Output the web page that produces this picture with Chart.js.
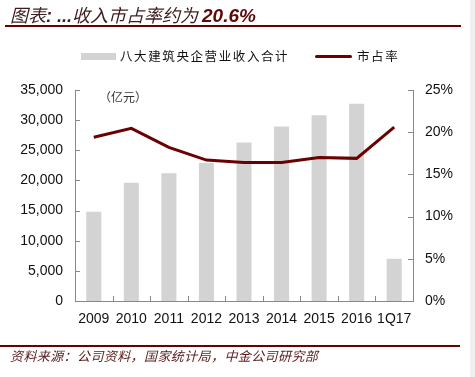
<!DOCTYPE html>
<html><head><meta charset="utf-8">
<script src="https://cdn.jsdelivr.net/npm/chart.js@4/dist/chart.umd.min.js"></script>
<style>
html,body{margin:0;padding:0;background:#fff;}
#wrap{position:relative;width:475px;height:377px;overflow:hidden;background:#fff;}
#strip{position:absolute;left:470px;top:0;width:5px;height:377px;background:#f0f0f0;}
#title{position:absolute;left:10px;top:2px;font-family:"Noto Sans CJK SC";font-style:italic;font-size:18px;color:#3d1c1c;white-space:nowrap;line-height:24px;}
#title b{color:#5e0a0a;font-family:"Liberation Sans";font-weight:bold;font-style:italic;font-size:19px;}
#title .d{font-family:"Liberation Sans";font-weight:bold;}
#tline{position:absolute;left:5px;top:25px;width:456px;height:2px;background:#6b0000;}
#fline{position:absolute;left:0px;top:345px;width:460px;height:2px;background:#6b0000;}
#foot{position:absolute;left:10px;top:346px;font-family:"Noto Sans CJK SC";font-style:italic;font-size:13px;letter-spacing:0.4px;color:#5a1a1a;white-space:nowrap;}
#unit{position:absolute;left:99px;top:88px;font-family:"Noto Sans CJK SC";font-size:12px;color:#333;white-space:nowrap;}
.leg{position:absolute;font-family:"Noto Sans CJK SC";font-size:12.5px;letter-spacing:1.6px;color:#111;white-space:nowrap;line-height:16px;}
canvas{position:absolute;left:0;top:0;}
</style></head><body>
<div id="wrap">
<canvas id="c" width="475" height="377"></canvas>
<div id="strip"></div>
<div id="title">图表<span class="d">: ...</span>收入市占率约为 <b>20.6%</b></div>
<div id="tline"></div>
<div style="position:absolute;left:81px;top:53px;width:35px;height:7px;background:#d3d3d3;"></div>
<div class="leg" style="left:120px;top:48px;">八大建筑央企营业收入合计</div>
<div style="position:absolute;left:315px;top:55px;width:37px;height:3px;background:#6b0000;border-radius:2px;"></div>
<div class="leg" style="left:357px;top:48px;">市占率</div>
<div id="unit">（亿元）</div>
<div id="fline"></div>
<div id="foot">资料来源：公司资料，国家统计局，中金公司研究部</div>
</div>
<script>
const categories = ["2009","2010","2011","2012","2013","2014","2015","2016","1Q17"];
const revenue = [14800, 19600, 21200, 22900, 26300, 28950, 30800, 32700, 7000];
const share = [19.4, 20.45, 18.2, 16.7, 16.4, 16.4, 17.0, 16.9, 20.6];
const leftTicks = [0,5000,10000,15000,20000,25000,30000,35000];
const rightTicks = [0,5,10,15,20,25];

const inwardTicks = {
  id:'inwardTicks',
  afterDraw(chart){
    const ctx = chart.ctx, a = chart.chartArea;
    const y = chart.scales.y, y1 = chart.scales.y1, x = chart.scales.x;
    ctx.save();
    ctx.strokeStyle = '#888'; ctx.lineWidth = 1;
    ctx.beginPath();
    leftTicks.forEach(v=>{const p=Math.round(y.getPixelForValue(v))+0.5; ctx.moveTo(a.left,p); ctx.lineTo(a.left+5,p);});
    rightTicks.forEach(v=>{const p=Math.round(y1.getPixelForValue(v))+0.5; ctx.moveTo(a.right-5,p); ctx.lineTo(a.right,p);});
    const w = (x.getPixelForValue(1)-x.getPixelForValue(0));
    for(let i=1;i<categories.length;i++){const p=Math.round(x.getPixelForValue(i)-w/2)+0.5; ctx.moveTo(p,a.bottom); ctx.lineTo(p,a.bottom-5);}
    ctx.stroke();
    ctx.restore();
  }
};

new Chart(document.getElementById('c'), {
  data:{
    labels: categories,
    datasets:[
      {type:'line', label:'市占率', data: share, yAxisID:'y1', borderColor:'#6b0000', borderWidth:3, pointRadius:0, tension:0, order:0},
      {type:'bar', label:'八大建筑央企营业收入合计', data: revenue, yAxisID:'y', backgroundColor:'#d3d3d3', barPercentage:0.4, categoryPercentage:1, order:1}
    ]
  },
  options:{
    responsive:false, animation:false, devicePixelRatio:1,
    layout:{padding:{top:90,left:0,right:0,bottom:0}},
    plugins:{legend:{display:false}, tooltip:{enabled:false}},
    scales:{
      x:{
        grid:{display:false, drawTicks:false},
        border:{display:true, color:'#888', width:1},
        ticks:{font:{family:'Liberation Sans', size:14}, color:'#111', padding:10, maxRotation:0, autoSkip:false},
        afterFit(s){s.height = 76;}
      },
      y:{
        position:'left', min:0, max:35000,
        grid:{display:false, drawTicks:false},
        border:{display:true, color:'#888', width:1},
        ticks:{stepSize:5000, font:{family:'Liberation Sans', size:14}, color:'#111', padding:12,
          callback:v=>v.toLocaleString('en-US')},
        afterFit(s){s.width = 75;}
      },
      y1:{
        position:'right', min:0, max:25,
        grid:{display:false, drawTicks:false},
        border:{display:true, color:'#888', width:1},
        ticks:{stepSize:5, font:{family:'Liberation Sans', size:14}, color:'#111', padding:12,
          callback:v=>v+'%'},
        afterFit(s){s.width = 62;}
      }
    }
  },
  plugins:[inwardTicks]
});
</script>
</body></html>
